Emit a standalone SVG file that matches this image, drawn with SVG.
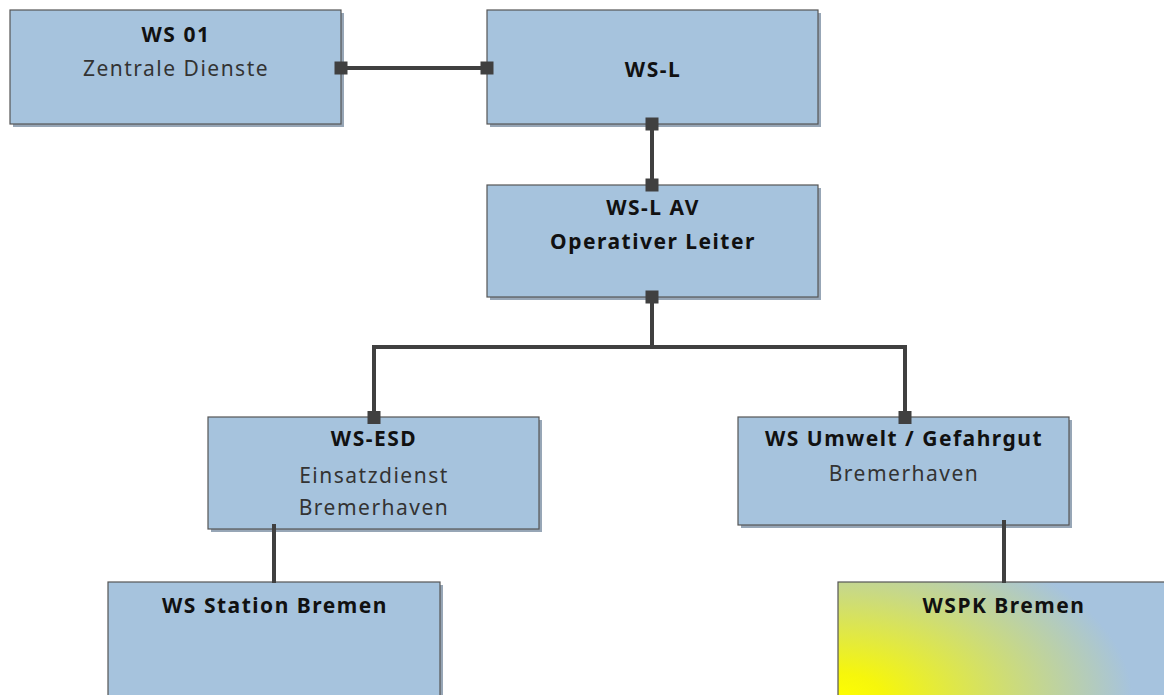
<svg xmlns="http://www.w3.org/2000/svg" width="1164" height="695" viewBox="0 0 1164 695">
<defs>
<style>
.box{fill:#a6c3dd;stroke:#555;stroke-width:1.2}
.sh{fill:#97a6b6}
.t{font-family:"Noto Sans","Open Sans",sans-serif;font-size:21px;text-anchor:middle;letter-spacing:1.5px}
.b{font-weight:bold;fill:#111}
.r{fill:#333}
.c{stroke:#404040;stroke-width:4;fill:none}
.m{fill:#404040}
</style>
<radialGradient id="yg" gradientUnits="userSpaceOnUse" cx="0" cy="0" r="1" gradientTransform="translate(838 700) scale(310 180)">
<stop offset="0" stop-color="#ffff00"/>
<stop offset="0.15" stop-color="#f6f60c"/>
<stop offset="0.95" stop-color="#a6c3de"/>
</radialGradient>
</defs>
<rect width="1164" height="695" fill="#fff"/>
<g id="ws01">
<rect class="sh" x="13" y="13" width="331" height="114"/>
<rect class="box" x="10" y="10" width="331" height="114"/>
<text class="t b" x="176" y="42">WS 01</text>
<text class="t r" x="176" y="76">Zentrale Dienste</text>
</g>
<g id="wsl">
<rect class="sh" x="490" y="13" width="331" height="114"/>
<rect class="box" x="487" y="10" width="331" height="114"/>
<text class="t b" x="653" y="77">WS-L</text>
</g>
<g id="wslav">
<rect class="sh" x="490" y="188" width="331" height="112"/>
<rect class="box" x="487" y="185" width="331" height="112"/>
<text class="t b" x="653" y="215">WS-L AV</text>
<text class="t b" x="653" y="249">Operativer Leiter</text>
</g>
<g id="wsesd">
<rect class="sh" x="211" y="420" width="331" height="112"/>
<rect class="box" x="208" y="417" width="331" height="112"/>
<text class="t b" x="374" y="446">WS-ESD</text>
<text class="t r" x="374" y="483">Einsatzdienst</text>
<text class="t r" x="374" y="515">Bremerhaven</text>
</g>
<g id="wsumwelt">
<rect class="sh" x="741" y="420" width="331" height="108"/>
<rect class="box" x="738" y="417" width="331" height="108"/>
<text class="t b" x="904" y="446">WS Umwelt / Gefahrgut</text>
<text class="t r" x="904" y="481">Bremerhaven</text>
</g>
<g id="wsstation">
<rect class="sh" x="111" y="585" width="332" height="120"/>
<rect class="box" x="108" y="582" width="332" height="120"/>
<text class="t b" x="275" y="613">WS Station Bremen</text>
</g>
<g id="wspk">
<rect class="sh" x="841" y="585" width="332" height="120"/>
<rect x="838" y="582" width="332" height="120" fill="url(#yg)" stroke="#555" stroke-width="1.2"/>
<text class="t b" x="1004" y="613">WSPK Bremen</text>
</g>
<g id="connectors">
<line class="c" x1="341" y1="68" x2="487" y2="68"/>
<line class="c" x1="652" y1="124" x2="652" y2="185"/>
<polyline class="c" points="652,297 652,347 374,347 374,418"/>
<polyline class="c" points="652,347 905,347 905,418"/>
<line class="c" x1="274" y1="524" x2="274" y2="583"/>
<line class="c" x1="1004" y1="520" x2="1004" y2="583"/>
<rect class="m" x="334.5" y="61.5" width="13" height="13"/>
<rect class="m" x="480.5" y="61.5" width="13" height="13"/>
<rect class="m" x="645.5" y="117.5" width="13" height="13"/>
<rect class="m" x="645.5" y="178.5" width="13" height="13"/>
<rect class="m" x="645.5" y="290.5" width="13" height="13"/>
<rect class="m" x="367.5" y="411" width="13" height="13"/>
<rect class="m" x="898.5" y="411" width="13" height="13"/>
</g>
</svg>
